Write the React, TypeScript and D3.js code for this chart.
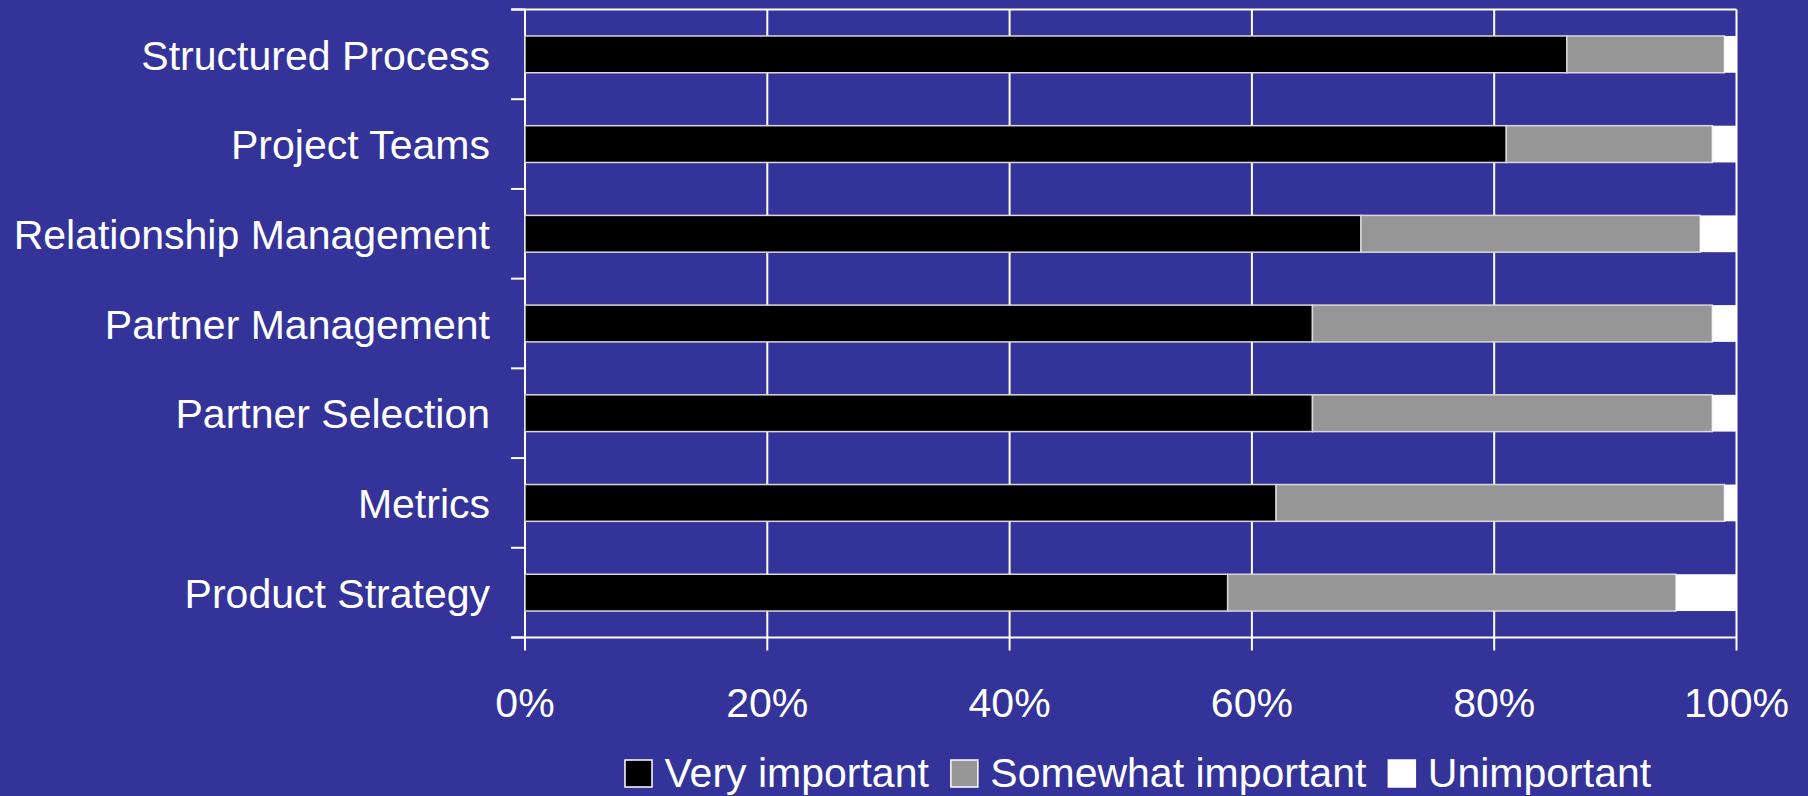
import React from "react";
import * as d3 from "d3";

const categories = [
  "Structured Process",
  "Project Teams",
  "Relationship Management",
  "Partner Management",
  "Partner Selection",
  "Metrics",
  "Product Strategy",
];
const veryImportant = [86, 81, 69, 65, 65, 62, 58];
const somewhatImportant = [13, 17, 28, 33, 33, 37, 37];
const unimportant = [1, 2, 3, 2, 2, 1, 5];
const seriesNames = ["Very important", "Somewhat important", "Unimportant"];
const seriesColors = ["#000000", "#969696", "#ffffff"];
const xTicks = [0, 20, 40, 60, 80, 100];

const W = 1808;
const H = 796;
const BG = "#333399";
const FONT = "'Liberation Sans', Arial, sans-serif";
const FS = 41;

function measure(text: string): number {
  const c = document.createElement("canvas");
  const ctx = c.getContext("2d");
  if (!ctx) return text.length * FS * 0.5;
  ctx.font = `${FS}px ${FONT}`;
  return ctx.measureText(text).width;
}

export default function App() {
  const left = 525;
  const right = 1736.5;
  const top = 9.5;
  const bottom = 637.5;

  const x = d3.scaleLinear().domain([0, 100]).range([left, right]);
  const y = d3
    .scaleBand<string>()
    .domain(categories)
    .range([top, bottom])
    .paddingInner(0.59)
    .paddingOuter(0.295);
  const band = (bottom - top) / categories.length;

  const rows = categories.map((c, i) => ({
    cat: c,
    vals: [veryImportant[i], somewhatImportant[i], unimportant[i]],
  }));
  const stack = d3
    .stack<any>()
    .keys(["0", "1", "2"])
    .value((d: any, k: string) => d.vals[+k]);
  const stacked = stack(rows);

  // legend layout
  const box = 27;
  const legendY = 760;
  let lx = 625;
  const legendItems = seriesNames.map((name, i) => {
    const item = { name, color: seriesColors[i], bx: lx, tx: lx + box + 12.5 };
    lx = item.tx + measure(name) + 22;
    return item;
  });

  return (
    <svg
      width={W}
      height={H}
      style={{ position: "absolute", left: 0, top: 0, display: "block" }}
      fontFamily={FONT}
    >
      <rect x={0} y={0} width={W} height={H} fill={BG} />
      {/* vertical gridlines */}
      {xTicks.map((t) => (
        <line
          key={"g" + t}
          x1={x(t)}
          x2={x(t)}
          y1={top}
          y2={bottom + 13}
          stroke="#ffffff"
          strokeWidth={2}
        />
      ))}
      {/* top frame line */}
      <line x1={left - 14} x2={right} y1={top} y2={top} stroke="#ffffff" strokeWidth={2} />
      {/* bottom axis */}
      <line x1={left - 14} x2={right} y1={bottom} y2={bottom} stroke="#ffffff" strokeWidth={2} />
      {/* left category ticks */}
      {d3.range(categories.length + 1).map((i) => (
        <line
          key={"yt" + i}
          x1={left - 14}
          x2={left}
          y1={top + i * band}
          y2={top + i * band}
          stroke="#ffffff"
          strokeWidth={2}
        />
      ))}
      {/* bars */}
      {stacked.map((s, si) =>
        s.map((d, i) => (
          <rect
            key={si + "-" + i}
            x={x(d[0])}
            y={y(categories[i])}
            width={Math.max(0, x(d[1]) - x(d[0]))}
            height={y.bandwidth()}
            fill={seriesColors[si]}
            stroke={si === 2 ? "none" : "#d8d8d8"}
            strokeWidth={1.5}
          />
        ))
      )}
      {/* category labels */}
      {categories.map((c) => (
        <text
          key={"l" + c}
          x={490}
          y={(y(c) as number) + y.bandwidth() / 2}
          dy="0.37em"
          textAnchor="end"
          fill="#ffffff"
          fontSize={FS}
        >
          {c}
        </text>
      ))}
      {/* x tick labels */}
      {xTicks.map((t) => (
        <text
          key={"xl" + t}
          x={x(t)}
          y={717}
          textAnchor="middle"
          fill="#ffffff"
          fontSize={FS}
        >
          {t + "%"}
        </text>
      ))}
      {/* legend */}
      {legendItems.map((it) => (
        <g key={it.name}>
          <rect
            x={it.bx}
            y={legendY}
            width={box}
            height={box}
            fill={it.color}
            stroke="#ffffff"
            strokeWidth={1.5}
          />
          <text x={it.tx} y={787} fill="#ffffff" fontSize={FS}>
            {it.name}
          </text>
        </g>
      ))}
    </svg>
  );
}
